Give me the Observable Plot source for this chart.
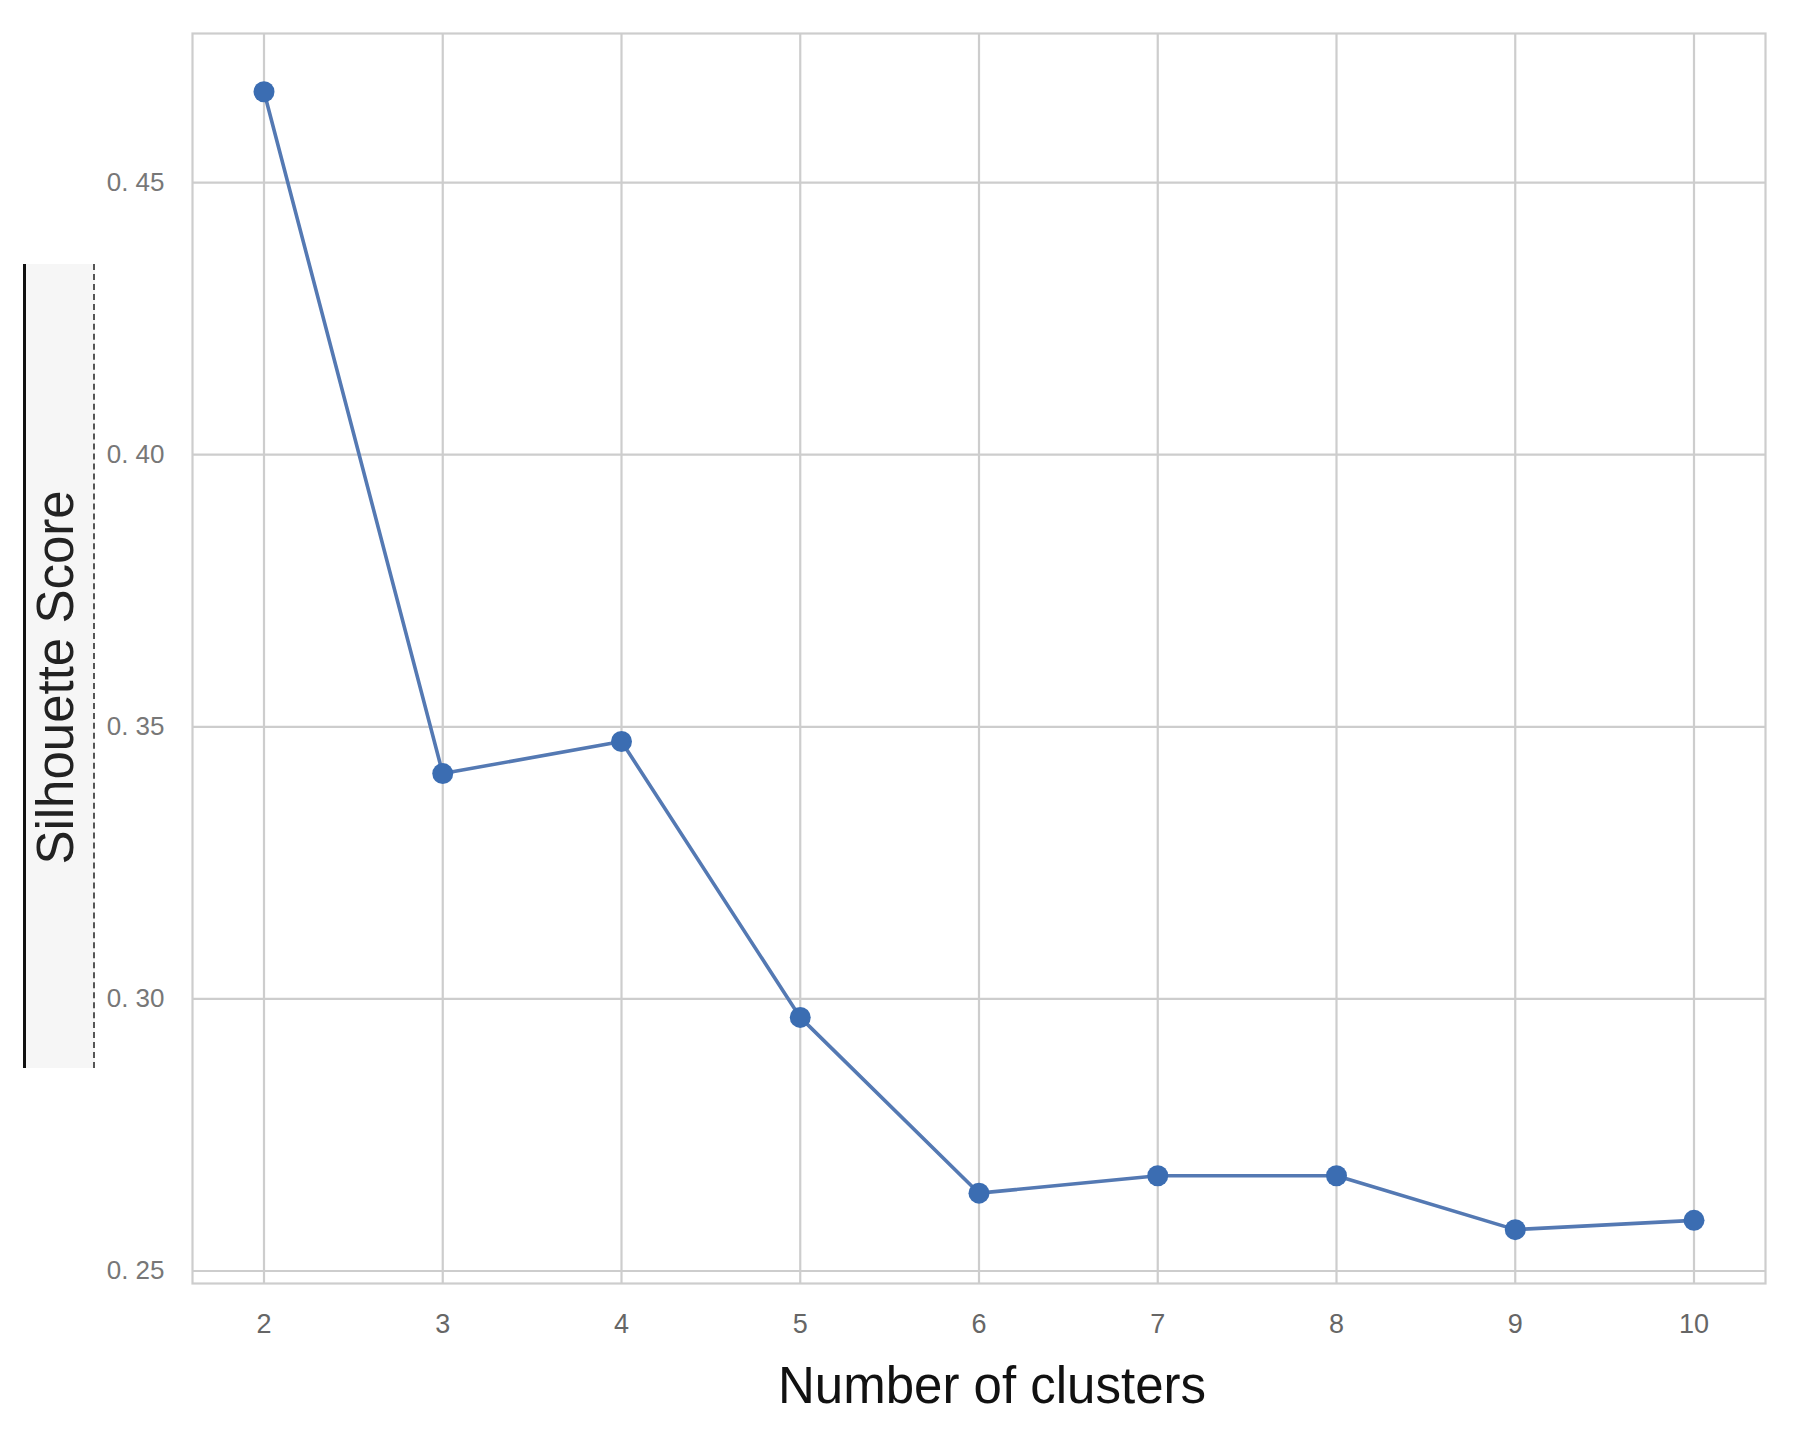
<!DOCTYPE html>
<html>
<head>
<meta charset="utf-8">
<script src="https://cdn.jsdelivr.net/npm/d3@7"></script>
<script src="https://cdn.jsdelivr.net/npm/@observablehq/plot@0.6"></script>
<style>
  html, body { margin: 0; padding: 0; background: #fff; }
  #wrap { position: relative; width: 1800px; height: 1435px; }
  #ybox { position: absolute; left: 23px; top: 264px; width: 72px; height: 804px;
          background: #f6f6f6; border-left: 3px solid #111; border-right: 2px dashed #555; box-sizing: border-box; }
  #chart { position: absolute; left: 0; top: 0; }
</style>
</head>
<body>
<div id="wrap"><div id="ybox"></div><div id="chart"></div></div>
<script>
const clusters = [2, 3, 4, 5, 6, 7, 8, 9, 10];
const scores = [0.4667, 0.3414, 0.3473, 0.2966, 0.2643, 0.2675, 0.2675, 0.2576, 0.2593];
const xTicks = [2, 3, 4, 5, 6, 7, 8, 9, 10];
const yTicks = [0.25, 0.30, 0.35, 0.40, 0.45];
const xLabel = "Number of clusters";
const yLabel = "Silhouette Score";

const data = clusters.map((k, i) => ({k, score: scores[i]}));
const grid = "#cdcdcd";

const chart = Plot.plot({
  width: 1800,
  height: 1435,
  marginLeft: 192,
  marginRight: 35,
  marginTop: 33,
  marginBottom: 152,
  style: {fontFamily: "'Liberation Sans', Arial, sans-serif", background: "transparent", overflow: "visible"},
  x: {domain: [1.6, 10.4]},
  y: {domain: [0.2477, 0.4774]},
  marks: [
    Plot.gridX(xTicks, {stroke: grid, strokeOpacity: 1, strokeWidth: 2.2}),
    Plot.gridY(yTicks, {stroke: grid, strokeOpacity: 1, strokeWidth: 2.2}),
    Plot.frame({stroke: grid, strokeWidth: 2.2}),
    Plot.axisX(xTicks, {tickSize: 0, tickPadding: 30, fontSize: 27, fill: "#666",
      tickFormat: d => String(d),
      fontFamily: "'Liberation Sans Narrow', 'Liberation Sans', Arial, sans-serif", label: null}),
    Plot.axisY(yTicks, {tickSize: 0, tickPadding: 28, fontSize: 26, fill: "#777",
      tickFormat: d => "0. " + d.toFixed(2).slice(2), label: null}),
    Plot.line(data, {x: "k", y: "score", stroke: "#5479b3", strokeWidth: 3.6}),
    Plot.dot(data, {x: "k", y: "score", r: 10.5, fill: "#3b6db2", stroke: "none"}),
    Plot.text([xLabel], {frameAnchor: "bottom", dx: 13, dy: 119, fontSize: 51, fill: "#111", text: d => d}),
    Plot.text([yLabel], {frameAnchor: "left", textAnchor: "middle", dx: -136, dy: 19, rotate: -90,
      fontSize: 51, fill: "#222", text: d => d})
  ]
});
document.getElementById("chart").appendChild(chart);
</script>
</body>
</html>
